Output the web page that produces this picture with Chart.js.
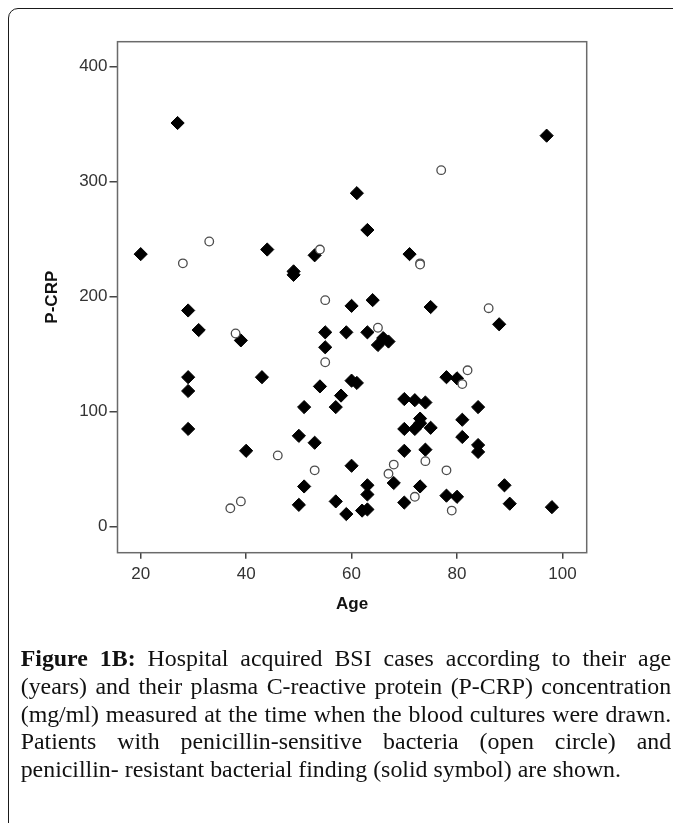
<!DOCTYPE html>
<html>
<head>
<meta charset="utf-8">
<script src="https://cdn.jsdelivr.net/npm/chart.js@4.4.0/dist/chart.umd.min.js"></script>
<style>
html,body{margin:0;padding:0;background:#fff;}
body{width:673px;height:823px;position:relative;overflow:hidden;}
#frame{position:absolute;left:8px;top:8px;width:720px;height:850px;border:1.5px solid #1a1a1a;border-radius:10px;box-sizing:border-box;}
#chart{position:absolute;left:0;top:0;}
.cap{position:absolute;left:20.7px;width:650.5px;font-family:"Liberation Serif",serif;color:#111;line-height:1;text-align:justify;text-align-last:justify;}
.cap.last{text-align:left;text-align-last:left;white-space:nowrap;}
</style>
</head>
<body>
<div id="frame"></div>
<canvas id="chart" width="673" height="823"></canvas>
<div id="caption"></div>
<script>
// Data: penicillin-resistant (solid diamonds)
const ageResistant = [20,27,29,31,29,29,29,39,40,43,44,49,49,50,50,51,51,53,53,54,55,55,57,57,58,59,59,60,60,60,61,61,62,63,63,63,63,63,64,65,66,67,68,70,70,70,70,71,72,72,73,73,73,74,74,75,75,78,78,80,80,81,81,84,84,84,88,89,90,97,98];
const crpResistant = [237,351,188,171,130,118,85,162,66,130,241,222,219,79,19,104,35,236,73,122,169,156,104,22,114,169,11,192,127,53,125,290,14,258,169,36,28,15,197,158,164,161,38,111,85,66,21,237,110,85,94,90,35,108,67,191,86,130,27,129,26,93,78,104,71,65,176,36,20,340,17];

// Data: penicillin-sensitive (open circles)
const ageSensitive = [28,33,37,38,39,46,53,54,55,55,65,67,68,72,73,73,74,77,78,79,81,82,86];
const crpSensitive = [229,248,16,168,22,62,49,241,197,143,173,46,54,26,229,228,57,310,49,14,124,136,190];

// Axes
const xTicks = [20,40,60,80,100];
const yTicks = [0,100,200,300,400];

// Caption
const captionBold = "Figure 1B:";
const captionLines = [
  " Hospital acquired BSI cases according to their age",
  "(years) and their plasma C-reactive protein (P-CRP) concentration",
  "(mg/ml) measured at the time when the blood cultures were drawn.",
  "Patients with penicillin-sensitive bacteria (open circle) and",
  "penicillin- resistant bacterial finding (solid symbol) are shown."
];

function pts(xs,ys){return xs.map((x,i)=>({x:x,y:ys[i]}));}

// plot box
const plotFrame={id:'plotFrame',beforeDatasetsDraw(c){const a=c.chartArea,ctx=c.ctx;ctx.save();ctx.strokeStyle='#6a6a6a';ctx.lineWidth=1.5;ctx.strokeRect(a.left,a.top,a.right-a.left,a.bottom-a.top);ctx.restore();}};

const tickFont={family:'"Liberation Sans", Arial, sans-serif',size:17};
const titleFont={family:'"Liberation Sans", Arial, sans-serif',size:17,weight:'bold'};

new Chart(document.getElementById('chart'),{
  type:'scatter',
  data:{datasets:[
    {label:'Sensitive',data:pts(ageSensitive,crpSensitive),pointStyle:'circle',pointRadius:4.3,backgroundColor:'#fff',borderColor:'#4d4d4d',borderWidth:1.3,order:0},
    {label:'Resistant',data:pts(ageResistant,crpResistant),pointStyle:'rectRot',pointRadius:6.6,backgroundColor:'#000',borderColor:'#000',borderWidth:1,order:1}
  ]},
  options:{
    responsive:false,animation:false,devicePixelRatio:1,
    layout:{padding:{left:0,top:41.7,right:86.3,bottom:200.3}},
    plugins:{legend:{display:false},tooltip:{enabled:false}},
    scales:{
      x:{type:'linear',min:15.6,max:104.6,
        afterBuildTicks:s=>{s.ticks=xTicks.map(v=>({value:v}));},
        afterFit:s=>{s.height=70;},
        grid:{drawOnChartArea:false,tickLength:6,tickColor:'#444',lineWidth:1.5},
        border:{display:false},
        ticks:{color:'#333',font:tickFont,padding:5,maxRotation:0,autoSkip:false},
        title:{display:true,text:'Age',color:'#111',font:titleFont,padding:{top:0,bottom:8.5}}},
      y:{type:'linear',min:-22.6,max:421.7,
        afterBuildTicks:s=>{s.ticks=yTicks.map(v=>({value:v}));},
        afterFit:s=>{s.width=117.5;},
        grid:{drawOnChartArea:false,tickLength:8,tickColor:'#444',lineWidth:1.5},
        border:{display:false},
        ticks:{color:'#333',font:tickFont,padding:2,autoSkip:false},
        title:{display:true,text:'P-CRP',color:'#111',font:titleFont,padding:{top:42,bottom:0}}}
    }
  },
  plugins:[plotFrame]
});

// Caption lines, sized so the last line spans like the original
const m=document.createElement('canvas').getContext('2d');
m.font='100px "Liberation Serif"';
const fs=600.6/m.measureText(captionLines[4]).width*100;
const cap=document.getElementById('caption');
captionLines.forEach((t,i)=>{
  const d=document.createElement('div');
  d.className='cap'+(i==4?' last':'');
  d.style.fontSize=fs+'px';
  d.style.top=(667+i*27.8-0.8375*fs)+'px';
  if(i==0){const b=document.createElement('b');b.textContent=captionBold;d.appendChild(b);d.appendChild(document.createTextNode(t));}
  else d.textContent=t;
  cap.appendChild(d);
});
</script>
</body>
</html>
